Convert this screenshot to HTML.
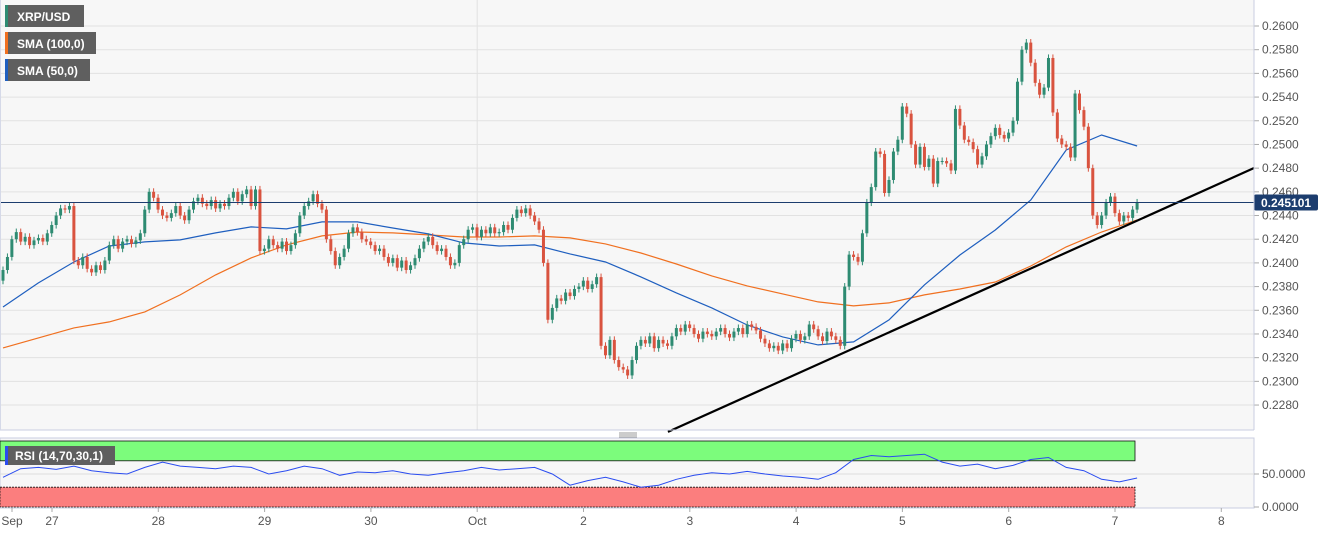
<!DOCTYPE html>
<html><head><meta charset="utf-8">
<style>
html,body{margin:0;padding:0;background:#fff;width:1331px;height:534px;overflow:hidden;font-family:"Liberation Sans",sans-serif;}
svg{display:block}
</style></head>
<body>
<svg id="chart" width="1331" height="534" viewBox="0 0 1331 534" xmlns="http://www.w3.org/2000/svg">
<rect x="0" y="0" width="1254" height="430" fill="#f7f7f7"/>
<g id="grid"></g>
<g id="yaxis"></g>
<g id="sma100"></g>
<g id="sma50"></g>
<g id="candles"></g>
<g id="trend"></g>
<g id="lastline"></g>
<line x1="1254" y1="0" x2="1254" y2="430" stroke="#c8cde0"/>
<line x1="0" y1="430" x2="1254" y2="430" stroke="#c8cde0"/>
<line x1="0.5" y1="0" x2="0.5" y2="430" stroke="#d5d9e8"/>
<g>
<line x1="619" y1="433" x2="637" y2="433" stroke="#999"/><line x1="619" y1="435" x2="637" y2="435" stroke="#999"/><line x1="619" y1="437" x2="637" y2="437" stroke="#999"/>
</g>
<rect x="0" y="438" width="1254" height="70" fill="#f7f7f7" stroke="#c8cde0"/>
<g id="rsi"></g>
<g id="xaxis"></g>
<g>
<g><rect x="5" y="5" width="79" height="22" fill="#5f5f5f"/><rect x="5" y="5" width="3" height="22" fill="#2e8b72"/><text x="17" y="21" fill="#fff" font-size="12" font-weight="bold">XRP/USD</text></g>
<g><rect x="5" y="32" width="91" height="22" fill="#5f5f5f"/><rect x="5" y="32" width="3" height="22" fill="#f07020"/><text x="17" y="48" fill="#fff" font-size="12" font-weight="bold">SMA (100,0)</text></g>
<g><rect x="5" y="59" width="85" height="22" fill="#5f5f5f"/><rect x="5" y="59" width="3" height="22" fill="#1f5fbf"/><text x="17" y="75" fill="#fff" font-size="12" font-weight="bold">SMA (50,0)</text></g>
</g>
</svg>
<script>
const closes=[
.2394,.2405,.2420,.2426,.2418,.2422,.2415,.2419,.2421,.2418,
.2425,.2432,.2440,.2446,.2445,.2448,.2402,.2398,.2405,.2395,
.2392,.2398,.2394,.2402,.2415,.2420,.2412,.2418,.2420,.2416,
.2419,.2425,.2445,.2460,.2455,.2445,.2440,.2438,.2442,.2448,
.2440,.2436,.2445,.2452,.2455,.2450,.2448,.2453,.2446,.2450,
.2448,.2455,.2460,.2452,.2458,.2462,.2448,.2462,.2410,.2412,
.2420,.2415,.2412,.2418,.2410,.2415,.2425,.2440,.2448,.2452,
.2458,.2450,.2445,.2420,.2410,.2398,.2405,.2412,.2425,.2430,
.2426,.2420,.2418,.2415,.2410,.2412,.2405,.2400,.2404,.2396,
.2402,.2394,.2398,.2404,.2412,.2418,.2422,.2415,.2410,.2412,
.2405,.2398,.2400,.2415,.2420,.2428,.2430,.2422,.2428,.2425,
.2430,.2425,.2426,.2432,.2428,.2438,.2445,.2442,.2446,.2440,
.2435,.2428,.2400,.2352,.2362,.2370,.2368,.2375,.2372,.2378,
.2380,.2385,.2378,.2382,.2388,.2330,.2322,.2335,.2318,.2312,
.2310,.2305,.2318,.2330,.2335,.2332,.2338,.2328,.2335,.2332,
.2330,.2338,.2345,.2342,.2348,.2345,.2340,.2336,.2342,.2340,
.2338,.2342,.2345,.2340,.2337,.2342,.2345,.2340,.2348,.2346,
.2343,.2336,.2332,.2328,.2330,.2326,.2332,.2328,.2336,.2340,
.2335,.2338,.2348,.2344,.2338,.2334,.2342,.2338,.2335,.2330,
.2380,.2407,.2405,.2401,.2425,.2451,.2464,.2494,.2492,.2459,
.2470,.2494,.2504,.2532,.2526,.2500,.2483,.2498,.2481,.2488,
.2467,.2486,.2486,.2484,.2478,.2530,.2516,.2504,.2502,.2496,
.2483,.2490,.2500,.2507,.2514,.2508,.2505,.2510,.2520,.2553,
.2580,.2586,.2569,.2552,.2542,.2548,.2573,.2527,.2505,.2500,
.2498,.2489,.2543,.2529,.2515,.2480,.2440,.2432,.2440,.2451,
.2456,.2442,.2435,.2440,.2438,.2445,.2451];
const firstOpen=.2385;
const sma50=[.23628,.23831,.24008,.24143,.24177,.24194,.24253,.24304,.24287,.24346,.24346,.24295,.24245,.24169,.24143,.24152,.24076,.24008,.23882,.23747,.23620,.23476,.23375,.23308,.23333,.23519,.23814,.24067,.24278,.24531,.24953,.25080,.24987];
const sma100=[.23282,.23367,.23451,.23502,.23586,.23730,.23899,.24042,.24152,.24228,.24261,.24253,.24236,.24219,.24219,.24228,.24211,.24160,.24084,.23991,.23890,.23806,.23738,.23671,.23637,.23662,.23730,.23780,.23839,.23974,.24135,.24261,.24363];
const rsiVals=[45,58,60,57,62,55,52,50,60,68,62,60,58,62,60,50,55,62,58,48,53,52,55,50,48,52,55,60,56,58,60,50,33,40,45,38,30,33,42,48,52,50,54,50,47,45,42,52,72,78,76,78,80,68,62,65,58,63,72,75,60,55,42,38,44];
const trendIdx=[150.1,282.4];
const trendPrice=[.22573,.24801];
const lastPrice=.245101;
const yTicks=[.2280,.2300,.2320,.2340,.2360,.2380,.2400,.2420,.2440,.2460,.2480,.2500,.2520,.2540,.2560,.2580,.2600];
const dayLabels=["Sep","27","28","29","30","Oct","2","3","4","5","6","7","8"];
const dayIndex=[-0.4,0,1,2,3,4,5,6,7,8,9,10,11];

const NS="http://www.w3.org/2000/svg";
function y(p){return 26+(0.26-p)/0.002*23.69;}
function xi(i){return 3+i*4.43;}
function xd(d){return 52+d*106.3;}
function ry(v){return 507-v*0.66;}
function mk(tag,attrs,parent){const e=document.createElementNS(NS,tag);for(const k in attrs)e.setAttribute(k,attrs[k]);parent.appendChild(e);return e;}
const G=id=>document.getElementById(id);

// grid + y axis
yTicks.forEach(t=>{
  const l=mk('line',{x1:0,x2:1254,y1:y(t),y2:y(t),stroke:'#e2e2e2'},G('grid'));
  
  
  mk('line',{x1:1254,x2:1259,y1:y(t),y2:y(t),stroke:'#aaa'},G('yaxis'));
  const tx=mk('text',{x:1262,y:y(t)+4,'font-size':12,fill:'#555'},G('yaxis'));
  tx.textContent=t.toFixed(4);
  
  
});
mk('line',{x1:xd(4),x2:xd(4),y1:0,y2:430,stroke:'#e2e2e2'},G('grid'));

// SMA lines
function smaPath(arr,g,color,name){
  const d=arr.map((v,k)=>(k?'L':'M')+xi(k*8).toFixed(1)+','+y(v).toFixed(1)).join('');
  const p=mk('path',{d:d,fill:'none',stroke:color,'stroke-width':1.2},G(g));
  
  
}
smaPath(sma100,'sma100','#f07020','sma-100-line');
smaPath(sma50,'sma50','#1f5fbf','sma-50-line');

// candles
let prev=firstOpen;
closes.forEach((c,i)=>{
  const o=prev;prev=c;
  const up=c>=o;const col=up?'#2e8b72':'#d9533f';
  const x=xi(i);
  const hi=Math.max(o,c)+0.0003, lo=Math.min(o,c)-0.0003;
  const g=mk('g',{},G('candles'));
  
  
  mk('line',{x1:x,x2:x,y1:y(hi),y2:y(lo),stroke:col,'stroke-width':1},g);
  const top=y(Math.max(o,c)),h=Math.max(1,y(Math.min(o,c))-top);
  mk('rect',{x:x-1.5,y:top,width:3,height:h,fill:col},g);
});

// trendline
const tl=mk('line',{x1:xi(trendIdx[0]),y1:y(trendPrice[0]),x2:xi(trendIdx[1]),y2:y(trendPrice[1]),stroke:'#000','stroke-width':2.2},G('trend'));



// last price line
const ll=mk('line',{x1:0,x2:1254,y1:y(lastPrice),y2:y(lastPrice),stroke:'#1c3d6e','stroke-width':1},G('lastline'));


const lb=mk('rect',{x:1254,y:y(lastPrice)-8,width:64,height:16,fill:'#1c3d6e',rx:2},G('lastline'));


const lt=mk('text',{x:1261,y:y(lastPrice)+4.5,'font-size':12,'font-weight':'bold',fill:'#fff'},G('lastline'));
lt.textContent=lastPrice.toFixed(6);

// RSI
const R=G('rsi');
const gb=mk('rect',{x:0,y:ry(100),width:1135,height:ry(70)-ry(100),fill:'#7cfc7c',stroke:'#111','stroke-width':0.8},R);


const rb=mk('rect',{x:0,y:ry(30),width:1135,height:ry(0)-ry(30),fill:'#fb7e7e',stroke:'#111','stroke-width':0.8,'stroke-dasharray':'2,1'},R);


mk('line',{x1:0,x2:1254,y1:ry(50),y2:ry(50),stroke:'#ddd'},R);
[[50,'50.0000'],[0,'0.0000']].forEach(a=>{
  mk('line',{x1:1254,x2:1259,y1:ry(a[0]),y2:ry(a[0]),stroke:'#aaa'},R);
  const t=mk('text',{x:1262,y:ry(a[0])+4,'font-size':12,fill:'#555'},R);
  t.textContent=a[1];
  
  
});
const rp=mk('path',{d:rsiVals.map((v,k)=>(k?'L':'M')+xi(k*4).toFixed(1)+','+ry(v).toFixed(1)).join(''),fill:'none',stroke:'#2a4cf0','stroke-width':1},R);


const rl=mk('g',{},R);


mk('rect',{x:5,y:446,width:110,height:19,fill:'#5f5f5f'},rl);
mk('rect',{x:5,y:446,width:3,height:19,fill:'#2a4cf0'},rl);
const rt=mk('text',{x:15,y:460,'font-size':12,'font-weight':'bold',fill:'#fff'},rl);
rt.textContent='RSI (14,70,30,1)';

// x axis
dayLabels.forEach((s,k)=>{
  const x=k===0?12:xd(dayIndex[k]);
  mk('line',{x1:x,x2:x,y1:508,y2:512,stroke:'#aaa'},G('xaxis'));
  const t=mk('text',{x:x,y:525,'font-size':12,fill:'#555','text-anchor':'middle'},G('xaxis'));
  t.textContent=s;
  
  
});
</script>
</body></html>
